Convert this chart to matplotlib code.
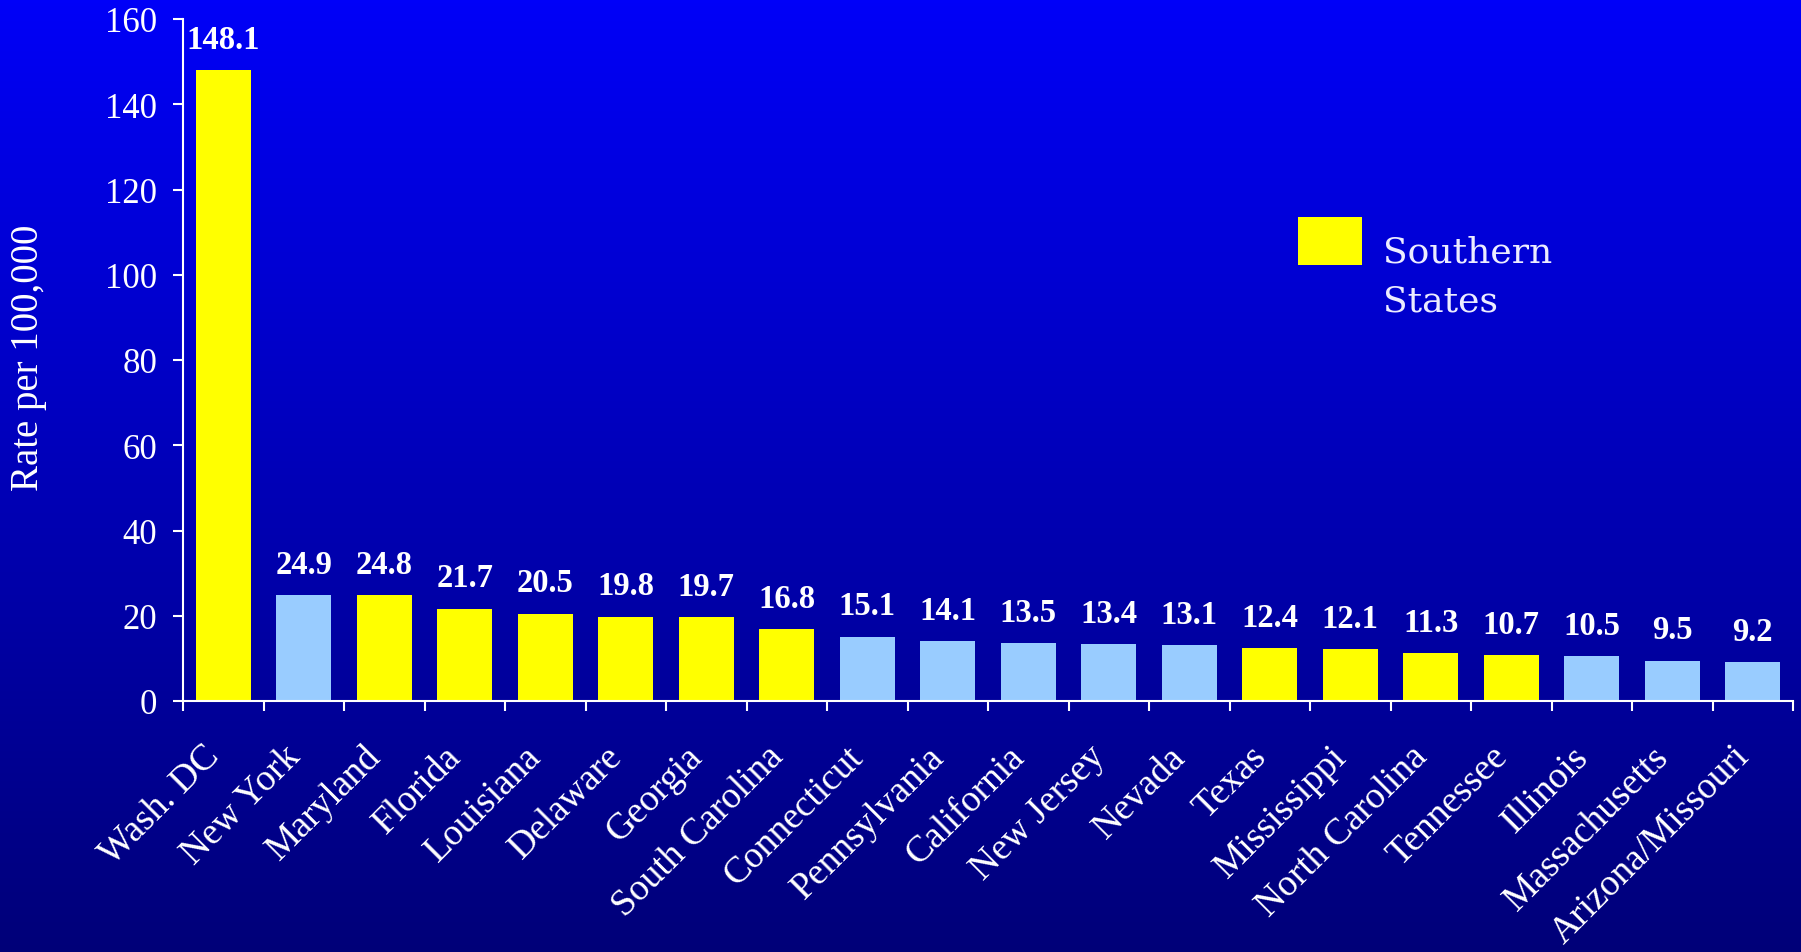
import matplotlib
matplotlib.use("Agg")
import matplotlib.pyplot as plt
import numpy as np
from matplotlib.colors import LinearSegmentedColormap
from matplotlib.patches import Rectangle
from matplotlib.transforms import ScaledTranslation

# ---- data ----
states = ["Wash. DC", "New York", "Maryland", "Florida", "Louisiana", "Delaware",
          "Georgia", "South Carolina", "Connecticut", "Pennsylvania", "California",
          "New Jersey", "Nevada", "Texas", "Mississippi", "North Carolina",
          "Tennessee", "Illinois", "Massachusetts", "Arizona/Missouri"]
rates = [148.1, 24.9, 24.8, 21.7, 20.5, 19.8, 19.7, 16.8, 15.1, 14.1, 13.5,
         13.4, 13.1, 12.4, 12.1, 11.3, 10.7, 10.5, 9.5, 9.2]
southern = [True, False, True, True, True, True, True, True, False, False, False,
            False, False, True, True, True, True, False, False, False]
y_ticks = [0, 20, 40, 60, 80, 100, 120, 140, 160]
y_label = "Rate per 100,000"
legend_label = "Southern\nStates"

YELLOW = "#FFFF00"
LIGHTBLUE = "#99CCFF"
SERIF = ["Liberation Serif", "DejaVu Serif"]

W, H, DPI = 1801, 953, 100
fig = plt.figure(figsize=(W / DPI, H / DPI), dpi=DPI)

# gradient background
bg = fig.add_axes([0, 0, 1, 1], zorder=-10)
cmap = LinearSegmentedColormap.from_list("bg", ["#000078", "#0000F8"])
grad = np.linspace(1, 0, 256).reshape(-1, 1)
bg.imshow(grad, aspect="auto", cmap=cmap, extent=[0, 1, 0, 1], vmin=0, vmax=1)
bg.set_axis_off()

ax_left, ax_right = 183 / W, 1793 / W
ax_bottom, ax_top = 1 - 702 / H, 1 - 20 / H
ax = fig.add_axes([ax_left, ax_bottom, ax_right - ax_left, ax_top - ax_bottom])
ax.set_facecolor("none")

x = np.arange(len(states)) + 0.5
colors = [YELLOW if s else LIGHTBLUE for s in southern]
bars = ax.bar(x, rates, width=0.683, color=colors, edgecolor="none", zorder=2)

for xi, v in zip(x, rates):
    ax.annotate(f"{v:.1f}", xy=(xi, v), xytext=(0, 16), textcoords="offset points",
                ha="center", va="baseline", color="white", fontsize=23.5,
                fontweight="bold", family=SERIF)

ax.set_xlim(0, len(states))
ax.set_ylim(0, 160)
ax.set_yticks(y_ticks)
ax.set_yticklabels([str(t) for t in y_ticks], family=SERIF, fontsize=25, color="white")
ax.tick_params(axis="y", direction="out", length=7.2, width=1.5, color="white", pad=11.5)

# major ticks at category boundaries, labels at centres (minor ticks)
ax.set_xticks(np.arange(len(states) + 1))
ax.set_xticklabels([])
ax.set_xticks(x, minor=True)
ax.set_xticklabels(states, minor=True, rotation=45, ha="right", va="center",
                   rotation_mode="anchor", family=SERIF, fontsize=27, color="white")
ax.tick_params(axis="x", which="major", direction="out", length=7.5, width=1.5, color="white")
ax.tick_params(axis="x", which="minor", length=0, pad=36)
shift = ScaledTranslation(-9 / DPI, 0, fig.dpi_scale_trans)
for lab in ax.get_xticklabels(minor=True):
    lab.set_transform(lab.get_transform() + shift)

for side in ["top", "right"]:
    ax.spines[side].set_visible(False)
for side in ["left", "bottom"]:
    ax.spines[side].set_color("white")
    ax.spines[side].set_linewidth(1.5)

ax.set_ylabel(y_label, family=SERIF, fontsize=28, color="white", va="center")
ax.yaxis.set_label_coords((29 - 183) / 1610, (702 - 358) / 682)

# legend (manual)
fig.patches.append(Rectangle((1298 / W, 1 - 266 / H), 64 / W, 48 / H,
                             transform=fig.transFigure, facecolor=YELLOW,
                             edgecolor="none"))
fig.text(1383 / W, 1 - 311 / H, legend_label, family=["DejaVu Serif"], fontsize=26,
         color="#ECECFF", ha="left", va="baseline", linespacing=1.53)

fig.savefig("out.png", dpi=DPI)
